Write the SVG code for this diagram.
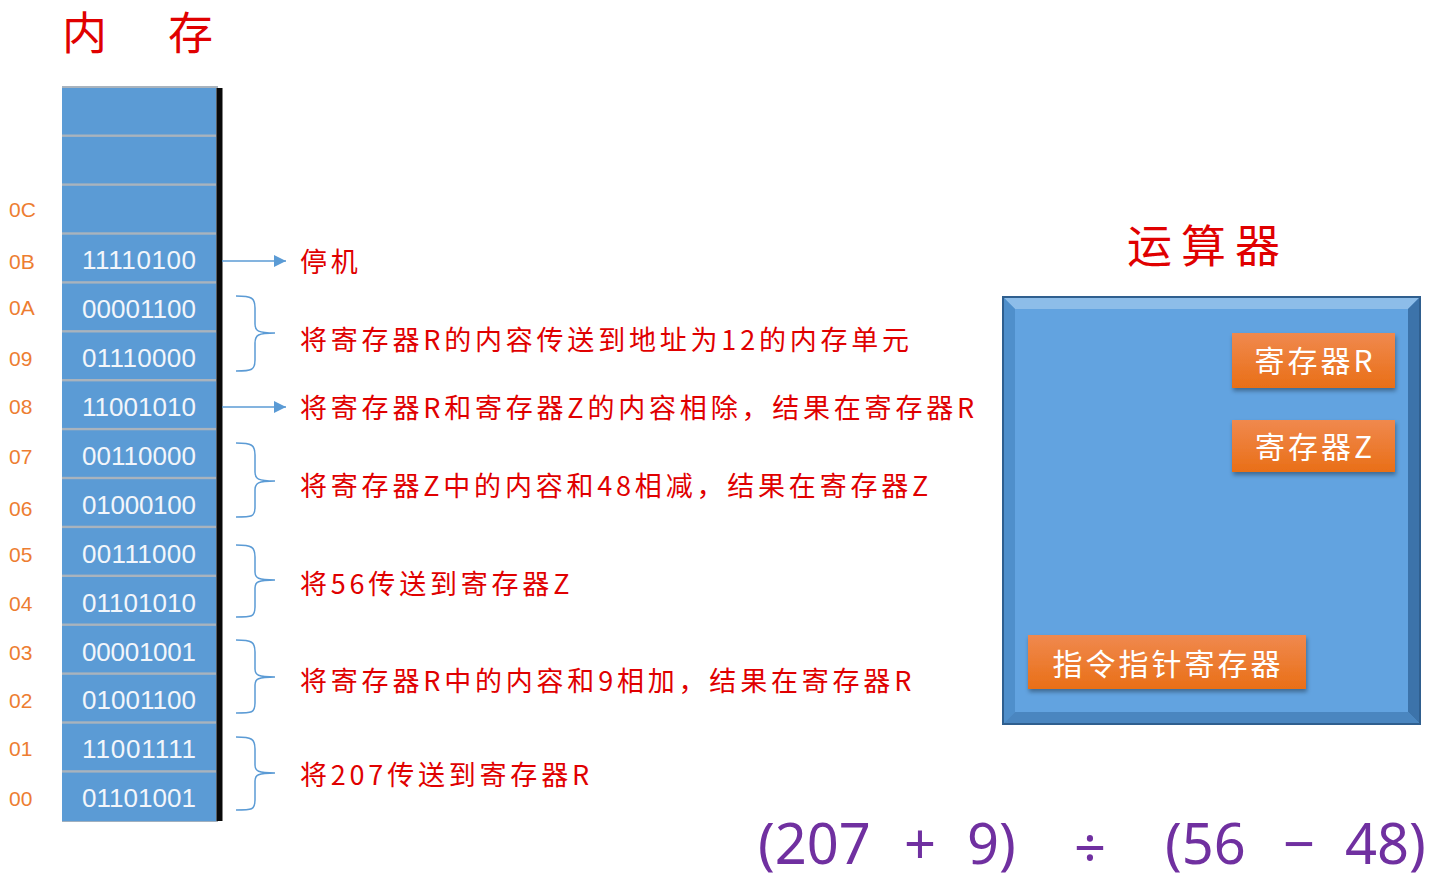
<svg xmlns="http://www.w3.org/2000/svg" width="1440" height="882" viewBox="0 0 1440 882">
<defs>
<linearGradient id="og" x1="0" y1="0" x2="0" y2="1"><stop offset="0" stop-color="#f0894e"/><stop offset="1" stop-color="#e96f17"/></linearGradient>
<filter id="sh" x="-10%" y="-10%" width="130%" height="140%"><feDropShadow dx="1" dy="3" stdDeviation="2" flood-color="#000" flood-opacity="0.35"/></filter>
<marker id="ah" viewBox="0 0 10 10" refX="10" refY="5" markerWidth="12" markerHeight="12" markerUnits="userSpaceOnUse" orient="auto"><path d="M0,0 L10,5 L0,10 z" fill="#5b9bd5"/></marker>
</defs>
<style>
.cell{fill:#5b9bd5}
.val{font-family:"Liberation Sans",Arial,sans-serif;font-size:26px;fill:#f2f6fb;text-anchor:middle}
.addr{font-family:"Liberation Sans",Arial,sans-serif;font-size:21px;fill:#ed7d31}
.desc{font-family:"Noto Sans CJK SC",sans-serif;font-size:27px;fill:#e00000;letter-spacing:3.8px}
.title{font-family:"Noto Sans CJK SC",serif;font-size:45px;fill:#e00000}
.reg{font-family:"Noto Sans CJK SC",sans-serif;font-size:30px;fill:#fff;text-anchor:middle;letter-spacing:3px}
.brace{fill:none;stroke:#5b9bd5;stroke-width:1.5}
.conn{stroke:#5b9bd5;stroke-width:1.5;fill:none}
.eq{font-family:"Noto Sans","Liberation Sans",sans-serif;font-size:56px;fill:#7030a0}
</style>
<rect width="1440" height="882" fill="#fff"/>
<g id="title-memory"><text class="title" x="62" y="50" font-size="43">内</text><text class="title" x="168" y="50" font-size="43">存</text></g>
<g id="title-alu"><text class="title" x="1127" y="263" letter-spacing="9">运算器</text></g>
<g id="memory">
<rect x="62" y="86" width="156" height="736" fill="#a9b3bd"/>
<rect class="cell" x="62" y="88" width="154" height="46.5"/>
<rect class="cell" x="62" y="136.9" width="154" height="46.5"/>
<rect class="cell" x="62" y="185.8" width="154" height="46.5"/>
<rect class="cell" x="62" y="234.7" width="154" height="46.5"/>
<rect class="cell" x="62" y="283.6" width="154" height="46.5"/>
<rect class="cell" x="62" y="332.5" width="154" height="46.5"/>
<rect class="cell" x="62" y="381.4" width="154" height="46.5"/>
<rect class="cell" x="62" y="430.3" width="154" height="46.5"/>
<rect class="cell" x="62" y="479.2" width="154" height="46.5"/>
<rect class="cell" x="62" y="528.1" width="154" height="46.5"/>
<rect class="cell" x="62" y="577" width="154" height="46.5"/>
<rect class="cell" x="62" y="625.9" width="154" height="46.5"/>
<rect class="cell" x="62" y="674.8" width="154" height="46.5"/>
<rect class="cell" x="62" y="723.7" width="154" height="46.5"/>
<rect class="cell" x="62" y="772.6" width="154" height="48.5"/>
<rect x="216.5" y="88" width="6" height="733" fill="#0a0a0a"/>
<text class="val" x="139" y="269" textLength="114">11110100</text>
<text class="val" x="139" y="318" textLength="114">00001100</text>
<text class="val" x="139" y="367" textLength="114">01110000</text>
<text class="val" x="139" y="416" textLength="114">11001010</text>
<text class="val" x="139" y="465" textLength="114">00110000</text>
<text class="val" x="139" y="514" textLength="114">01000100</text>
<text class="val" x="139" y="563" textLength="114">00111000</text>
<text class="val" x="139" y="612" textLength="114">01101010</text>
<text class="val" x="139" y="661" textLength="114">00001001</text>
<text class="val" x="139" y="709" textLength="114">01001100</text>
<text class="val" x="139" y="758" textLength="114">11001111</text>
<text class="val" x="139" y="807" textLength="114">01101001</text>
</g>
<g id="addresses">
<text class="addr" x="9" y="217">0C</text>
<text class="addr" x="9" y="269">0B</text>
<text class="addr" x="9" y="315">0A</text>
<text class="addr" x="9" y="366">09</text>
<text class="addr" x="9" y="414">08</text>
<text class="addr" x="9" y="464">07</text>
<text class="addr" x="9" y="516">06</text>
<text class="addr" x="9" y="562">05</text>
<text class="addr" x="9" y="611">04</text>
<text class="addr" x="9" y="660">03</text>
<text class="addr" x="9" y="708">02</text>
<text class="addr" x="9" y="756">01</text>
<text class="addr" x="9" y="806">00</text>
</g>
<g id="connectors">
<line class="conn" x1="222" y1="261" x2="286" y2="261" marker-end="url(#ah)"/>
<line class="conn" x1="222" y1="407" x2="286" y2="407" marker-end="url(#ah)"/>
<path class="brace" d="M236,296 C252,296 255,298 255,308 L255,324 C255,331 258,333 275,333 C258,333 255,335 255,343 L255,360 C255,370 252,371 236,371"/>
<path class="brace" d="M236,443 C252,443 255,445 255,455 L255,472 C255,479 258,481 275,481 C258,481 255,483 255,490 L255,507 C255,517 252,517 236,517"/>
<path class="brace" d="M236,545 C252,545 255,547 255,557 L255,572 C255,578 258,580 275,580 C258,580 255,582 255,588 L255,607 C255,617 252,617 236,617"/>
<path class="brace" d="M236,640 C252,640 255,642 255,652 L255,669 C255,675 258,677 275,677 C258,677 255,679 255,685 L255,703 C255,713 252,713 236,713"/>
<path class="brace" d="M236,737 C252,737 255,739 255,749 L255,765 C255,771 258,773 275,773 C258,773 255,775 255,781 L255,800 C255,810 252,810 236,810"/>
</g>
<g id="descriptions">
<text class="desc" x="300" y="272">停机</text>
<text class="desc" x="300" y="350">将寄存器R的内容传送到地址为12的内存单元</text>
<text class="desc" x="300" y="418">将寄存器R和寄存器Z的内容相除，结果在寄存器R</text>
<text class="desc" x="300" y="496">将寄存器Z中的内容和48相减，结果在寄存器Z</text>
<text class="desc" x="300" y="594">将56传送到寄存器Z</text>
<text class="desc" x="300" y="691">将寄存器R中的内容和9相加，结果在寄存器R</text>
<text class="desc" x="300" y="785">将207传送到寄存器R</text>
</g>
<g id="alu">
<rect x="1002" y="296" width="419" height="429" fill="#2f5f8f"/>
<rect x="1004" y="298" width="415" height="425" fill="#5b9bd5"/>
<path d="M1004,298 L1419,298 L1408,309 L1015,309 z" fill="#8dbde9"/>
<path d="M1004,298 L1015,309 L1015,712 L1004,723 z" fill="#4f8fcb"/>
<path d="M1419,298 L1419,723 L1408,712 L1408,309 z" fill="#3c73aa"/>
<path d="M1004,723 L1419,723 L1408,712 L1015,712 z" fill="#4a86c0"/>
<rect x="1015" y="309" width="393" height="403" fill="#62a3e0"/>
</g>
<g id="reg-r"><rect x="1232" y="333" width="163" height="55" fill="url(#og)" filter="url(#sh)"/><text class="reg" x="1315" y="372">寄存器R</text></g>
<g id="reg-z"><rect x="1232" y="420" width="163" height="52" fill="url(#og)" filter="url(#sh)"/><text class="reg" x="1315" y="458">寄存器Z</text></g>
<g id="reg-ip"><rect x="1028" y="635" width="278" height="54" fill="url(#og)" filter="url(#sh)"/><text class="reg" x="1168" y="675">指令指针寄存器</text></g>
<g id="formula">
<text class="eq" x="758" y="864">(207</text>
<text class="eq" x="904" y="864">+</text>
<text class="eq" x="967" y="864">9)</text>
<text class="eq" x="1074" y="868" font-family="Liberation Sans" font-size="64">÷</text>
<text class="eq" x="1165" y="864">(56</text>
<text class="eq" x="1283" y="864">−</text>
<text class="eq" x="1345" y="864">48)</text>
</g>
</svg>
